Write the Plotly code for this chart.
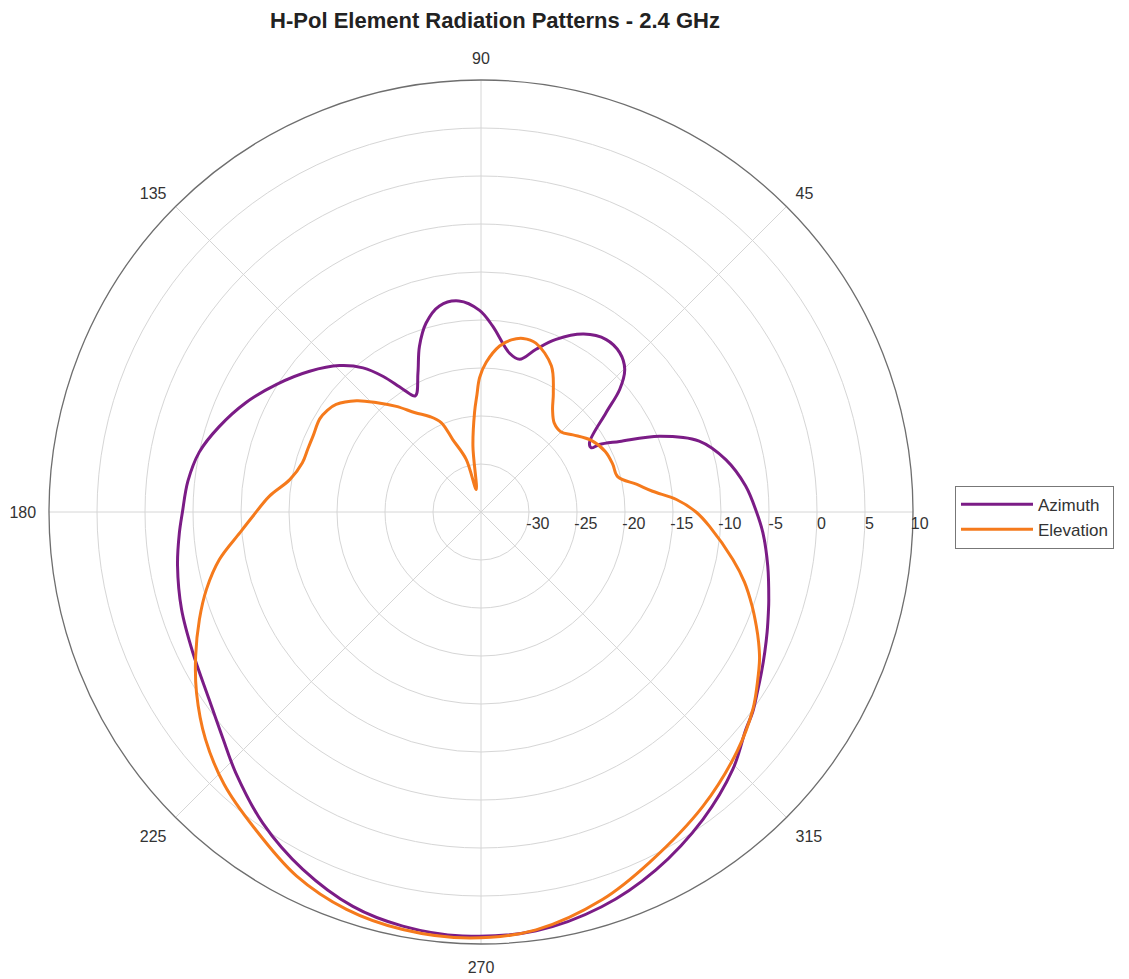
import plotly.graph_objects as go

# Azimuth pattern (angle in degrees, gain in dB)
az_theta = [0, 5.6, 12, 18, 23, 27, 29.7, 30.2, 32.5, 38.4, 41.5, 44.8, 48.9, 54, 60,
            66.5, 71.3, 75.8, 79.8, 86.4, 90.4, 96, 101.4, 106.2, 110.4, 114.4, 119.5,
            122.5, 125.8, 129.3, 134, 140.6, 148, 155, 162, 168, 174, 180, 184, 190, 198,
            206, 214.6, 221.4, 226.8, 235, 243.5, 252, 259.3, 267.5, 277.5, 287, 296,
            305.8, 314.4, 320.6, 323.6, 326.9, 330.3, 333.7, 337.25, 340.8, 343.1, 349.3,
            355.8, 360]
az_db = [-6.3, -7.3, -8.9, -11.1, -14.8, -18.8, -20.8, -21.7, -21.6, -18.4, -15.7, -13.9,
         -13.0, -12.8, -13.6, -15.4, -17.1, -18.6, -18.2, -15.6, -14.0, -12.9, -13.1, -14.5,
         -16.6, -19.1, -21.1, -19.8, -17.6, -15.6, -13.8, -11.9, -9.9, -8.0, -6.3, -5.0,
         -4.3, -3.9, -3.5, -2.9, -2.2, -1.6, -0.6, 0.8, 2.3, 4.6, 6.6, 8.2, 8.9, 9.2, 9.0,
         8.0, 6.5, 4.5, 2.5, 0.7, 0.15, -0.64, -1.36, -2.03, -2.68, -3.3, -3.67, -4.6,
         -5.56, -6.3]

# Elevation pattern
el_theta = [0, 3.66, 6.9, 10, 14.5, 20, 26, 33, 40, 45, 50.5, 55, 58.7, 64.3, 72,
            76.4, 80, 83.6, 88, 90.6, 92, 93.7, 97, 102, 105.7, 111.3, 114, 118.3,
            123.5, 128.7, 133.5, 138.2, 143.4, 146.5, 150, 155.7, 160, 164.6, 170.4, 175.7,
            181, 184.9, 190.3, 195.7, 200.9, 206.8, 212.4, 219.5, 226.7, 234.3, 243.1, 251.3,
            259.4, 268.5, 277.5, 287.4, 295.7, 307, 317, 324, 328.4, 332.2, 334.9, 337.5,
            340.9, 345.1, 349.3, 356.4, 360]
el_db = [-12.6, -14.6, -17.0, -18.5, -20.3, -20.4, -20.6, -21.3, -22.5, -23.2, -23.0,
         -22.0, -20.5, -18.1, -16.5, -16.4, -16.8, -17.6, -19.4, -21.0, -22.8, -24.6, -28.1,
         -32.6, -29.3, -26.9, -24.8, -23.7, -22.6, -20.9, -19.3, -17.6, -16.2, -15.8,
         -15.6, -15.8, -15.8, -15.7, -14.8, -12.9, -11.25, -9.8, -7.3, -5.3, -3.6, -1.7, 0.1,
         2.2, 4.0, 5.5, 7.5, 8.7, 9.25, 9.4, 8.9, 7.3, 5.5, 3.4, 1.5, 0.0, -1.19, -2.2,
         -3.07, -3.96, -5.12, -6.6, -8.3, -11.15, -12.6]

angle_ticks = [0, 45, 90, 135, 180, 225, 270, 315]
angle_labels = ["", "45", "90", "135", "180", "225", "270", "315"]
radial_ticks = [-30, -25, -20, -15, -10, -5, 0, 5, 10]
radial_labels = ["-30", "-25", "-20", "-15", "-10", "-5", "0", "5", "10"]

# labels sit just to the right of each ring: pad with non-breaking spaces
radial_text = ["\u00a0" * (len(t) + 1) + t for t in radial_labels]

fig = go.Figure()
fig.add_trace(go.Scatterpolar(theta=az_theta, r=az_db, mode="lines", name="Azimuth",
                              line=dict(color="#7B1C86", width=3, shape="spline", smoothing=1.0)))
fig.add_trace(go.Scatterpolar(theta=el_theta, r=el_db, mode="lines", name="Elevation",
                              line=dict(color="#F57A1C", width=3, shape="spline", smoothing=1.0)))

fig.update_layout(
    width=1129, height=979,
    paper_bgcolor="white",
    font=dict(family="Arial, Liberation Sans, sans-serif", size=16, color="#333333"),
    title=dict(text="<b>H-Pol Element Radiation Patterns - 2.4 GHz</b>",
               x=0.4314, xanchor="center", y=1 - 12 / 979, yanchor="middle",
               font=dict(size=22, color="#222222")),
    margin=dict(l=41, r=224, t=72, b=43),
    polar=dict(
        domain=dict(x=[0, 1], y=[0, 1]),
        bgcolor="white",
        angularaxis=dict(direction="counterclockwise", rotation=0,
                         tickmode="array", tickvals=angle_ticks, ticktext=angle_labels,
                         showline=True, linecolor="#6E6E6E", linewidth=1.3,
                         gridcolor="#D6D6D6", gridwidth=1,
                         ticks="outside", ticklen=9, tickcolor="rgba(0,0,0,0)",
                         tickfont=dict(size=16, color="#333333")),
        radialaxis=dict(range=[-35, 10], angle=0, tickangle=0,
                        tickmode="array", tickvals=radial_ticks, ticktext=radial_text,
                        showline=False, gridcolor="#D6D6D6", gridwidth=1, ticks="",
                        tickfont=dict(size=16, color="#333333")),
    ),
    legend=dict(x=1.0486, xanchor="left", y=0.494, yanchor="middle",
                bordercolor="#777777", borderwidth=1, bgcolor="white",
                font=dict(size=17, color="#333333"), itemwidth=72),
    showlegend=True,
)

fig.write_html("out.html")
